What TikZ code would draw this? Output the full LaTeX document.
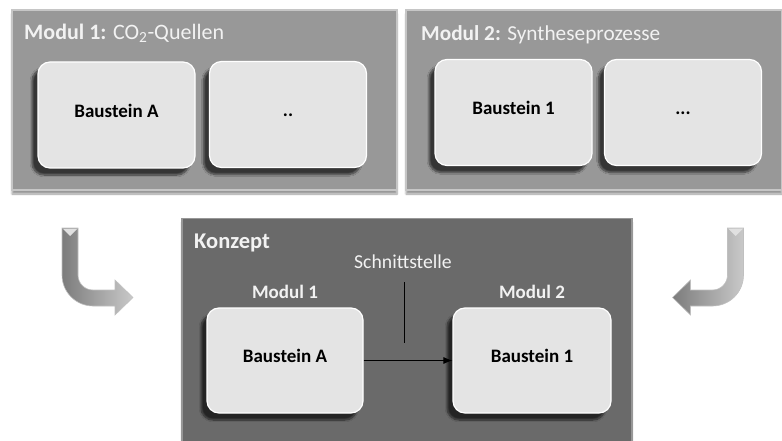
\documentclass[tikz,border=0pt]{standalone}
\usepackage{fontspec}
\setmainfont{Carlito}
\usetikzlibrary{shadows.blur,arrows.meta}
\definecolor{modgray}{HTML}{989898}
\definecolor{konzgray}{HTML}{6A6A6A}
\definecolor{boxfill}{HTML}{E4E4E4}
\definecolor{titletext}{HTML}{F2F2F2}
\definecolor{arrowgray}{HTML}{A5A5A5}
\tikzset{
 modbox/.style={rectangle, fill=modgray, draw=modgray!55!white, line width=1.2pt, inner sep=0pt,
   blur shadow={shadow xshift=0pt, shadow yshift=-4pt, shadow blur steps=6, shadow opacity=40}},
 konzbox/.style={modbox, fill=konzgray, draw=konzgray!70!white},
 brick/.style={rectangle, rounded corners=12pt, fill=boxfill, draw=white, line width=1.2pt,
   minimum width=157pt, minimum height=106pt, inner sep=0pt, text height=0.65em, text depth=0.2em,
   font=\fontsize{19}{21}\selectfont\bfseries, text=black,
   blur shadow={shadow xshift=-6pt, shadow yshift=-7pt, shadow blur steps=10, shadow opacity=65}},
 title/.style={anchor=west, text=titletext, inner sep=0pt},
 sublabel/.style={text=titletext, inner sep=0pt},
 bendarrow/.style={left color=arrowgray!75!black, right color=arrowgray!60!white, draw=arrowgray!70!white, line width=0.6pt},
 notch/.style={fill=white!88!black, draw=none},
}
\begin{document}
\begin{tikzpicture}[x=1pt,y=-1pt]
\useasboundingbox (0,0) rectangle (782,441);
% outer modules
\node[modbox, minimum width=385pt, minimum height=180pt] (m1) at (204.5,100) {};
\node[modbox, minimum width=376pt, minimum height=180pt] (m2) at (594,100) {};
\node[konzbox, minimum width=450pt, minimum height=223pt] (k) at (407,330) {};
% titles
\node[title, font=\fontsize{22}{24}\selectfont] (t1) at (24,33) {\textbf{Modul 1:} CO\textsubscript{2}-Quellen};
\node[title, font=\fontsize{21.3}{23}\selectfont] (t2) at (421,35) {\textbf{Modul 2:} Syntheseprozesse};
\node[title, font=\fontsize{22.5}{24}\selectfont\bfseries] (tk) at (194,243) {Konzept};
% bricks in module 1 and 2
\node[brick] (a1) at (116.5,115) {Baustein A};
\node[brick] (a2) at (288,114.5) {..};
\node[brick] (b1) at (513.5,112.5) {Baustein 1};
\node[brick] (b2) at (683,112.5) {...};
% concept
\node[sublabel, font=\fontsize{19.7}{21}\selectfont] (sst) at (403,262) {Schnittstelle};
\node[sublabel, font=\fontsize{19}{21}\selectfont\bfseries] (lm1) at (285,292) {Modul 1};
\node[sublabel, font=\fontsize{19}{21}\selectfont\bfseries] (lm2) at (532,292) {Modul 2};
\node[brick, minimum width=156pt, minimum height=105pt] (ka) at (285,360.5) {Baustein A};
\node[brick, minimum width=158pt, minimum height=105pt] (kb) at (532,360.5) {Baustein 1};
\draw[-{Latex[length=9pt,width=7pt]}, line width=0.9pt, black] (ka) -- (kb);
\coordinate (st1) at (404,282);
\coordinate (st2) at (404,343);
\draw[line width=1pt, black] (st1) -- (st2);
% bent arrows
\path[bendarrow] (62,228) -- (62,275) arc[start angle=180, end angle=90, radius=31] -- (115,306) -- (115,315) -- (133,297.5) -- (115,280) -- (115,290) -- (93,290) arc[start angle=90, end angle=180, radius=15] -- (78,228) -- cycle;
\path[notch] (62.5,228.5) -- (77.5,228.5) -- (70,236) -- cycle;
\path[bendarrow] (743.5,228) -- (743.5,275) arc[start angle=0, end angle=90, radius=31] -- (690.5,306) -- (690.5,315) -- (672.5,297.5) -- (690.5,280) -- (690.5,290) -- (712.5,290) arc[start angle=90, end angle=0, radius=15] -- (727.5,228) -- cycle;
\path[notch] (743,228.5) -- (728,228.5) -- (735.5,236) -- cycle;
\end{tikzpicture}
\end{document}
